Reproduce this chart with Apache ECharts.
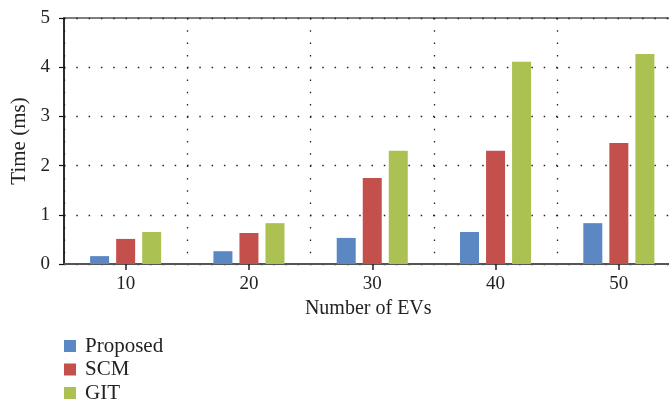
<!DOCTYPE html>
<html><head><meta charset="utf-8">
<script src="https://cdn.jsdelivr.net/npm/echarts@6/dist/echarts.min.js"></script>
<style>html,body{margin:0;padding:0;background:#fff}#c{width:669px;height:402px}</style>
</head><body><div id="c"></div>
<script>
const categories = ['10', '20', '30', '40', '50'];
const proposed = [0.16, 0.26, 0.53, 0.65, 0.83];
const scm = [0.51, 0.63, 1.75, 2.30, 2.46];
const git = [0.65, 0.83, 2.30, 4.11, 4.27];
const seriesNames = ['Proposed', 'SCM', 'GIT'];
const colors = ['#5b87c2', '#c4504c', '#abc152'];
const font = 'Liberation Serif';

const chart = echarts.init(document.getElementById('c'));
const dotted = {color: '#222', width: 1.3, type: [1.5, 10.8]};
const legendTops = [335.5, 359, 382.5];
chart.setOption({
  animation: false,
  color: colors,
  textStyle: {fontFamily: font},
  grid: {left: 64, width: 616.5, top: 18, height: 246, outerBoundsMode: 'none', containLabel: false,
    show: true, borderColor: '#555', borderWidth: 1.5, backgroundColor: 'transparent'},
  legend: seriesNames.map((n, i) => ({
    orient: 'vertical', left: 64, top: legendTops[i], padding: 0, itemWidth: 12, itemHeight: 12,
    icon: 'rect', data: [n],
    textStyle: {fontFamily: font, fontSize: 21, color: '#222', padding: [0, 0, 0, 4]}
  })),
  xAxis: {
    type: 'category', data: categories,
    name: 'Number of EVs', nameLocation: 'middle', nameGap: 29,
    nameTextStyle: {fontFamily: font, fontSize: 20, color: '#222', padding: [0, 8, 0, 0]},
    axisLine: {lineStyle: {color: '#555', width: 2}},
    axisTick: {show: true, alignWithLabel: true, length: 6, lineStyle: {color: '#222', width: 1.5}},
    axisLabel: {fontFamily: font, fontSize: 19, color: '#222', margin: 11},
    splitLine: {show: true, lineStyle: dotted}
  },
  yAxis: {
    type: 'value', min: 0, max: 5, interval: 1,
    name: 'Time (ms)', nameLocation: 'middle', nameGap: 34,
    nameTextStyle: {fontFamily: font, fontSize: 21, color: '#222'},
    axisLine: {show: true, lineStyle: {color: '#111', width: 1.5}},
    axisTick: {show: true, length: 5, lineStyle: {color: '#111', width: 1.2}},
    axisLabel: {fontFamily: font, fontSize: 19, color: '#222', margin: 14},
    splitLine: {show: true, lineStyle: dotted}
  },
  series: [
    {name: seriesNames[0], type: 'bar', data: proposed, barWidth: 19, barGap: '37%'},
    {name: seriesNames[1], type: 'bar', data: scm, barWidth: 19, barGap: '37%'},
    {name: seriesNames[2], type: 'bar', data: git, barWidth: 19, barGap: '37%'}
  ]
});
</script></body></html>
